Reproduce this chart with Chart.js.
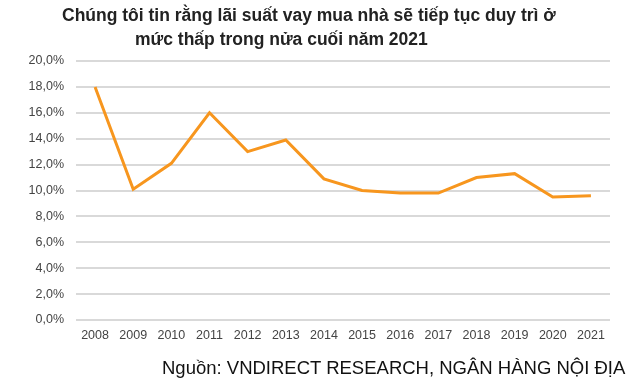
<!DOCTYPE html>
<html>
<head>
<meta charset="utf-8">
<script src="https://cdn.jsdelivr.net/npm/chart.js@4"></script>
<style>
  html, body { margin: 0; padding: 0; background: #fff; }
  #wrap { position: relative; width: 636px; height: 392px; overflow: hidden; }
  #chart { position: absolute; left: 0; top: 0; }
  .title { position: absolute; font-family: "Liberation Sans", Arial, sans-serif; font-weight: bold; font-size: 17.5px; color: #222; white-space: nowrap; }
  #source { position: absolute; left: 162px; top: 357px; font-family: "Liberation Sans", Arial, sans-serif; font-size: 18.5px; color: #111; white-space: nowrap; }
</style>
</head>
<body>
<div id="wrap">
  <canvas id="chart" width="636" height="392"></canvas>
  <div class="title" style="left:62px; top:5px;">Chúng tôi tin rằng lãi suất vay mua nhà sẽ tiếp tục duy trì ở</div>
  <div class="title" style="left:135px; top:29px;">mức thấp trong nửa cuối năm 2021</div>
  <div id="source">Nguồn: VNDIRECT RESEARCH, NGÂN HÀNG NỘI ĐỊA</div>
</div>
<script>
// data (%)
const years = ['2008', '2009', '2010', '2011', '2012', '2013', '2014', '2015', '2016', '2017', '2018', '2019', '2020', '2021'];
const rates = [18.0, 10.1, 12.1, 16.0, 13.0, 13.9, 10.9, 10.0, 9.8, 9.8, 11.0, 11.3, 9.5, 9.6];

const ctx = document.getElementById('chart').getContext('2d');
new Chart(ctx, {
  type: 'line',
  data: {
    labels: years,
    datasets: [{
      data: rates,
      borderColor: '#F7961E',
      borderWidth: 3,
      pointRadius: 0,
      tension: 0,
      fill: false
    }]
  },
  options: {
    responsive: false,
    animation: false,
    layout: { padding: { left: 0, right: 26, top: 61, bottom: 0 } },
    plugins: {
      legend: { display: false },
      tooltip: { enabled: false }
    },
    scales: {
      x: {
        offset: true,
        grid: { display: false, drawTicks: false, offset: true },
        border: { display: false },
        ticks: {
          color: '#444',
          font: { family: '"Liberation Sans", Arial, sans-serif', size: 12.5 },
          padding: 8,
          maxRotation: 0
        },
        afterFit: (scale) => { scale.height = 72; }
      },
      y: {
        min: 0,
        max: 20,
        grid: { color: '#D9D9D9', lineWidth: 2, drawTicks: false },
        border: { display: false },
        ticks: {
          stepSize: 2,
          color: '#444',
          font: { family: '"Liberation Sans", Arial, sans-serif', size: 12.5 },
          padding: 12,
          callback: (v) => v.toFixed(1).replace('.', ',') + '%'
        },
        afterFit: (scale) => { scale.width = 76; }
      }
    }
  }
});
</script>
</body>
</html>
